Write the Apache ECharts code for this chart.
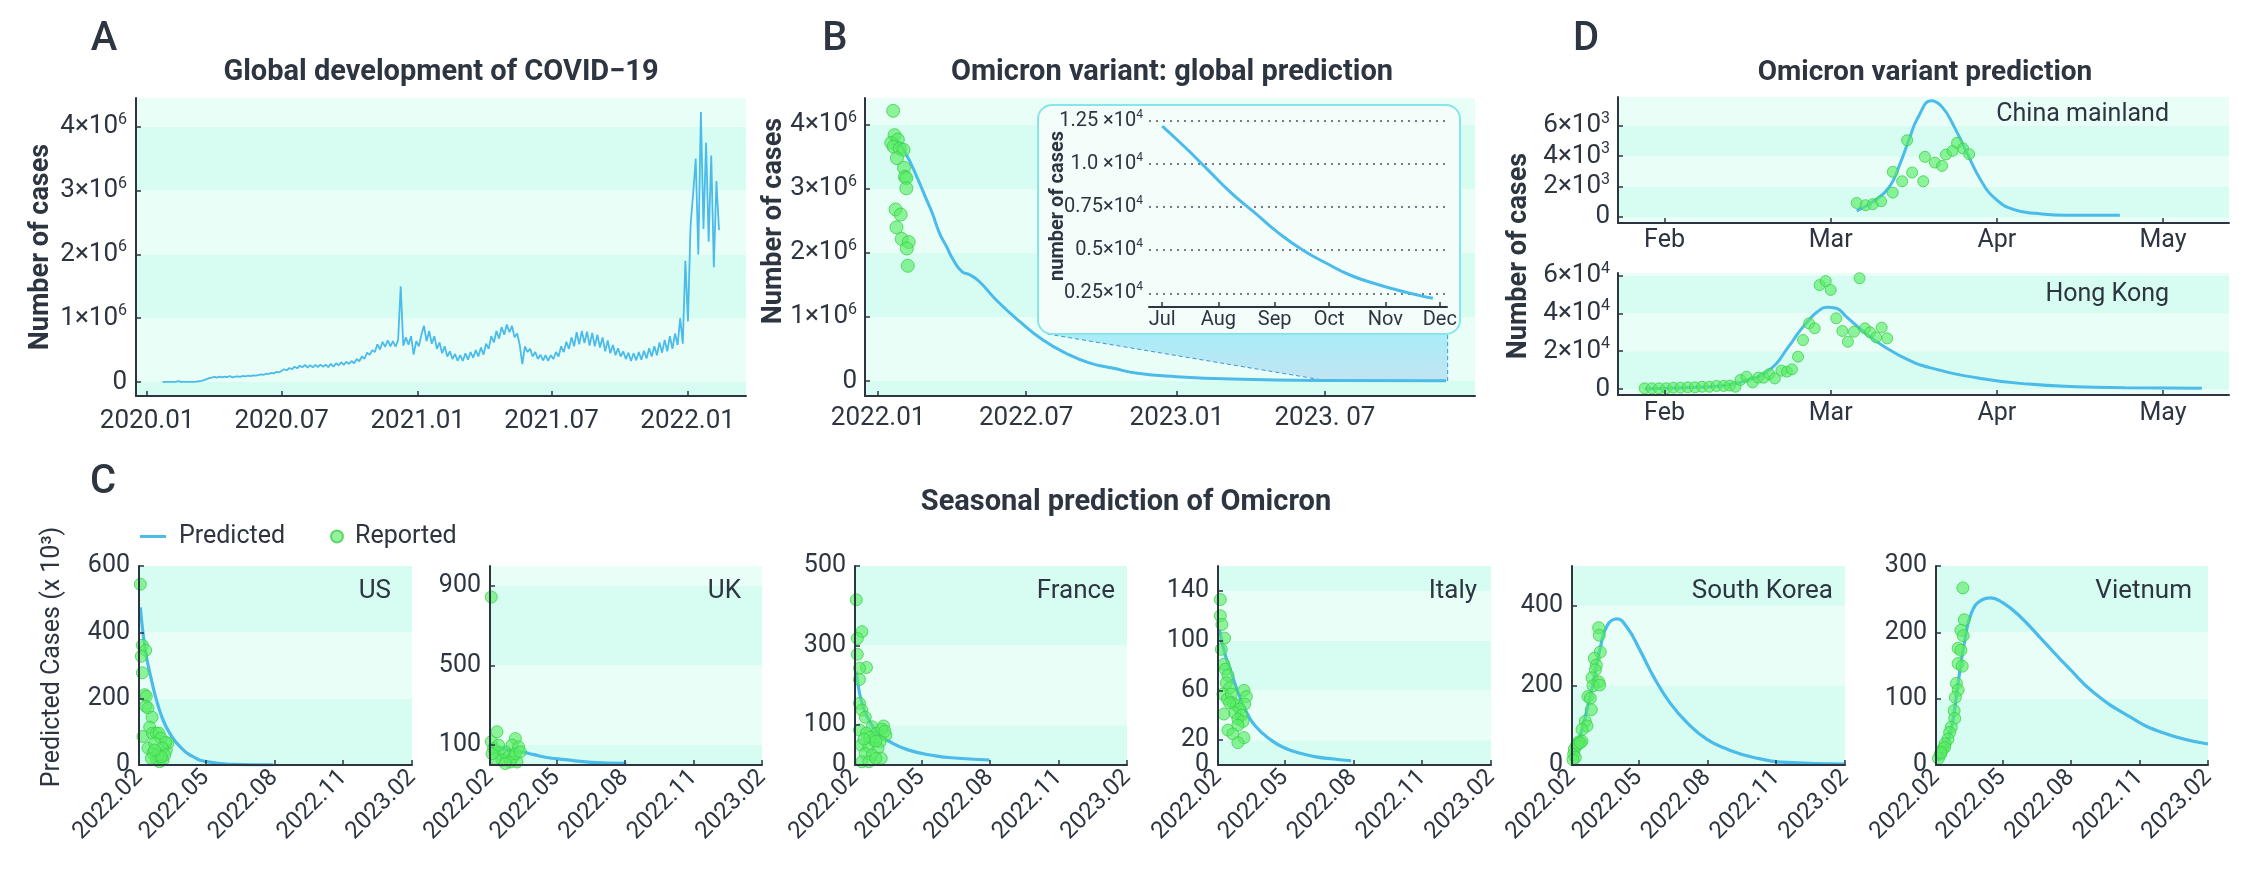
<!DOCTYPE html>
<html>
<head>
<meta charset="utf-8">
<title>COVID-19 / Omicron prediction</title>
<script src="https://cdn.jsdelivr.net/npm/echarts@6.0.0/dist/echarts.min.js"></script>
<style>
html, body { margin: 0; padding: 0; background: #ffffff; }
#chart { width: 2253px; height: 888px; }
</style>
</head>
<body>
<div id="chart"></div>
<script>
const DAY = 86400000;
function utc(y, m, d) { return Date.UTC(y, m - 1, d); }

// ================= DATA =================
// ---- Panel A: global daily cases (thousands), one sample every 3.5 days from 2020-01-22
const aStartDate = utc(2020, 1, 22);
const aStepDays = 3.5;
const aCasesK = [
  0.6, 2, 2.5,
  3, 3.5, 3, 15, 2.5, 2, 1, 1.5, 2,
  3, 5, 12, 17, 30, 45, 60, 70,
  80, 70, 85, 72, 85, 78, 95, 72, 85,
  90, 80, 95, 88, 100, 92, 105, 100, 110,
  120, 112, 130, 125, 145, 135, 160, 150,
  175, 200, 185, 220, 200, 240, 215, 255, 230,
  270, 225, 265, 230, 268, 235, 270, 240, 272,
  232, 285, 240, 295, 260, 310, 270, 318, 282,
  330, 295, 360, 325, 400, 365, 460, 425, 500,
  470, 590, 510, 630, 550, 655, 560, 640,
  555, 660, 1500, 570, 700, 585, 720, 430, 640,
  560, 740, 880, 640, 800, 600, 720, 520, 620,
  450, 560, 400, 480, 360, 440, 330, 420,
  330, 450, 350, 470, 380, 500, 400, 540, 430,
  600, 520, 720, 620, 800, 680, 860, 740,
  900, 780, 880, 700, 760, 580, 280, 560, 470,
  520, 400, 470, 360, 430, 340, 420, 330, 420,
  360, 470, 400, 560, 470, 630, 520, 700, 560,
  780, 590, 800, 610, 790, 570, 770, 560,
  740, 540, 700, 480, 650, 450, 580, 420, 530,
  400, 480, 360, 460, 330, 450, 340, 470, 350,
  490, 370, 530, 400, 560, 420, 620, 460,
  660, 480, 720, 520, 760, 580, 1000, 600, 1900,
  950, 2450, 2950, 3500, 2000, 4230, 2400, 3750, 2200,
  3550, 1800, 3150, 2380
];
const aXTicks = [utc(2020,1,1), utc(2020,7,1), utc(2021,1,1), utc(2021,7,1), utc(2022,1,1)];
const aYTicks = [0, 1e6, 2e6, 3e6, 4e6];

// ---- Panel B: global Omicron prediction (millions), days after 2022-01-01
const bBaseDate = utc(2022, 1, 1);
const bReportedDays = [18.4, 20.1, 16.1, 24.2, 19, 26.5, 31, 23, 31.7, 32.8, 34.5, 34.5, 21.3, 27.6, 22.5, 28.8, 37.4, 35.1, 36.3];
const bReportedM = [4.22, 3.84, 3.72, 3.77, 3.66, 3.63, 3.61, 3.48, 3.33, 3.19, 3.17, 3.01, 2.68, 2.60, 2.40, 2.22, 2.17, 2.07, 1.80];
const bPredDays = [19, 22, 28.8, 34.6, 40, 49, 57.6, 66.3, 75, 83.6, 92, 102.5, 112, 124, 144, 173, 201.5, 230, 259, 288, 317, 364, 432, 545, 694];
const bPredM = [3.79, 3.77, 3.66, 3.53, 3.40, 3.14, 2.88, 2.62, 2.31, 2.10, 1.89, 1.71, 1.66, 1.55, 1.27, 0.93, 0.64, 0.43, 0.28, 0.198, 0.12, 0.068, 0.03, 0.008, 0.003];
const bXTicks = [utc(2022,1,1), utc(2022,7,1), utc(2023,1,1), utc(2023,7,1)];
const bXLabels = ['2022.01', '2022.07', '2023.01', '2023. 07'];
const bYTicks = [0, 1e6, 2e6, 3e6, 4e6];
// magnified tail region (date, cases) in panel B coordinates
const zoomRegion = [[utc(2022,7,27), 734000], [utc(2023,6,30), 12000], [utc(2023,11,28), 0], [utc(2023,11,28), 734000]];

// ---- Panel B inset: tail of the prediction, days after 2023-07-01
const insetBaseDate = utc(2023, 7, 1);
const insetDays = [0, 12.3, 25.3, 38.3, 51.4, 64.4, 77.4, 90.5, 103.5, 116.6, 129.6, 142.6, 149.2];
const insetCases = [12190, 10990, 9640, 8290, 7130, 5970, 5010, 4240, 3560, 3080, 2690, 2350, 2210];
const insetXTicks = [utc(2023,7,1), utc(2023,8,1), utc(2023,9,1), utc(2023,10,1), utc(2023,11,1), utc(2023,12,1)];
const insetXLabels = ['Jul', 'Aug', 'Sep', 'Oct', 'Nov', 'Dec'];
const insetYTicks = [2500, 5000, 7500, 10000, 12500];
const insetYLabels = ['0.25×10', '0.5×10', '0.75×10', '1.0 ×10', '1.25 ×10'];

// ---- Panel D: month axis (30 = Feb, 60 = Mar, 90 = Apr, 120 = May)
const dMonthTicks = [30, 60, 90, 120];
const dMonthLabels = ['Feb', 'Mar', 'Apr', 'May'];
const cnPredX = [64.7, 68.0, 70.6, 72.3, 74.1, 75.8, 78.2, 80.1, 82.3, 84.5, 87.1, 89.7, 93.1, 97.5, 102.7, 112.2];
const cnPredV = [400, 1100, 1980, 3300, 5050, 6590, 7650, 7250, 5930, 4290, 2420, 1210, 480, 220, 110, 110];
const cnRepX = [64.7, 66.3, 67.6, 69.1, 71.2, 71.2, 72.9, 73.8, 74.7, 76.7, 77.0, 78.8, 80.1, 80.8, 82.0, 82.8, 83.9, 85.0];
const cnRepV = [920, 770, 840, 1030, 1600, 2970, 2350, 5050, 2930, 2350, 3960, 3580, 3360, 4110, 4350, 4880, 4510, 4130];
const cnYTicks = [0, 2000, 4000, 6000];
const hkPredX = [26.4, 35.0, 39.4, 42.0, 43.7, 48.9, 52.4, 54.1, 55.8, 57.6, 59.3, 61.0, 62.8, 66.3, 69.7, 74.1, 78.4, 87.1, 95.7, 104.4, 113.1, 127.0];
const hkPredV = [200, 800, 1500, 2500, 3500, 10000, 22400, 29500, 35600, 40900, 43200, 42700, 38300, 29400, 22400, 15300, 10900, 5600, 2600, 1200, 700, 350];
const hkRepX = [26.4, 27.7, 29.0, 30.3, 31.6, 32.9, 34.2, 35.5, 36.8, 38.1, 39.4, 40.7, 41.8, 42.8, 43.7, 44.8, 45.9, 46.9, 47.9, 48.9, 49.9, 51.1, 52.1, 53.0, 54.1, 55.0, 56.1, 57.1, 58.0, 59.1, 60.0, 61.0, 62.1, 63.1, 64.2, 65.2, 66.2, 67.1, 68.2, 69.2, 70.2];
const hkRepV = [350, 350, 350, 350, 700, 700, 900, 900, 1200, 1200, 1600, 1600, 1800, 1200, 4800, 6500, 3500, 6000, 6000, 7900, 5600, 9700, 9200, 10400, 17100, 25900, 34700, 32100, 55000, 57100, 52400, 37400, 30700, 25000, 30300, 58600, 32100, 30000, 27300, 32500, 26800];
const hkYTicks = [0, 20000, 40000, 60000];

// ---- Panel C: seasonal prediction (thousands), days after 2022-02-01
const cBaseDate = utc(2022, 2, 1);
const cXTicks = [utc(2022,2,1), utc(2022,5,1), utc(2022,8,1), utc(2022,11,1), utc(2023,2,1)];
const usPredDays = [1.8, 5.3, 9.8, 16.5, 23.2, 32.1, 41, 54.4, 72.2, 90, 125.7, 179];
const usPredK = [475, 399, 328, 258, 197, 136, 96, 56, 25, 10, 2, 0.3];
const usRepDays = [1.8, 4.5, 8.9, 3.1, 4.5, 7.6, 9.8, 8.9, 12, 17.4, 5.3, 14.3, 17.8, 23.2, 26.7, 29.4, 12, 18.7, 23.2, 27.6, 32.1, 36.5, 38.8, 35.7, 20.9, 31.2, 34.3, 25.4, 16.5, 29.9, 20.9];
const usRepK = [545, 361, 346, 328, 278, 212, 207, 177, 172, 144, 86, 114, 96, 96, 96, 81, 51, 35, 15, 10, 15, 45, 66, 68, 66, 51, 30, 30, 20, 25, 45];
const ukPredDays = [1, 10, 20, 29, 43, 59, 74, 101, 136, 183];
const ukPredK = [105, 92, 81, 74, 66, 52, 39, 27, 13.6, 8.5];
const ukRepDays = [1.7, 9.4, 34, 1.7, 4.8, 29.5, 38.4, 11.5, 20.5, 25, 31.7, 36.2, 16.1, 7.1, 27.2, 20.5, 34, 40.7, 2.7, 11.5];
const ukRepK = [844, 167, 133, 117, 83, 100, 91, 57, 66, 41, 41, 15, 24, 32, 15, 7, 57, 66, 57, 100];
const frPredDays = [2, 3.1, 9.3, 18.5, 30.9, 46.2, 70.9, 107.8, 138.6, 180.5];
const frPredK = [235, 214, 155, 113, 80, 59, 38, 23, 17, 12.6];
const frRepDays = [1.7, 9.3, 3.1, 3.1, 15.4, 6.0, 6.0, 6.0, 9.3, 13.8, 23, 38.3, 6.0, 29, 41.3, 15.4, 24.6, 33.8, 8.1, 18.5, 30.9, 13.7, 23, 35.2, 9.3, 18.5, 27.8, 36, 40, 20, 28, 12];
const frRepK = [415, 335, 318, 278, 245, 243, 215, 155, 138, 120, 96, 98, 88, 80, 75, 80, 63, 59, 50, 46, 42, 29, 25, 17, 8, 8, 17, 90, 85, 70, 60, 65];
const itPredDays = [2, 9, 18, 27, 36, 49, 71, 90, 110, 131, 155, 178];
const itPredK = [109, 90, 74, 58, 45, 32, 20, 13.5, 9.5, 6.5, 4.8, 3.4];
const itRepDays = [3.1, 3.1, 5.2, 8.8, 4.4, 7.9, 9.8, 13.3, 11.1, 15.5, 6.6, 12.4, 17.8, 19.9, 24.5, 15.5, 34.7, 37.9, 35.6, 28.9, 22.2, 31.2, 7.9, 26.6, 33.3, 26.6, 13.3, 19.9, 34.7, 26.6];
const itRepK = [133, 120, 113, 102, 93, 81, 77, 72, 66, 62, 57, 53, 57, 50, 48, 50, 60, 55, 49, 45, 42, 40, 41, 37, 35, 32, 28, 25, 22, 18];
const skPredDays = [2.2, 11, 20, 29, 38, 47, 60, 73.5, 91, 109, 131, 154, 180, 207, 243, 287, 364];
const skPredK = [23, 73, 139, 214, 296, 350, 367, 346, 288, 222, 156, 106, 65, 40, 19, 6.7, 2.5];
const skRepDays = [35.6, 36.5, 37.8, 29.8, 32.5, 31.2, 26.7, 35.6, 28.1, 37, 21.4, 24.5, 25.8, 17.8, 20, 13.4, 13.4, 8.8, 5.7, 3.1, 2.2, 4.4, 1.3, 7.5, 11.1];
const skRepK = [345, 326, 284, 268, 251, 239, 219, 209, 199, 201, 172, 168, 139, 110, 98, 89, 60, 58, 48, 40, 27, 19, 13, 52, 56];
const vnPredDays = [2.3, 11.4, 20.5, 29.7, 38.8, 47.9, 61.6, 73, 89, 111.8, 143.8, 180, 212, 258, 303.5, 365];
const vnPredK = [6.5, 24, 54, 124, 189, 230, 249, 252, 245, 225, 187, 144, 109, 74, 49, 31.6];
const vnRepDays = [36.1, 37.9, 33.4, 36.5, 29.7, 33.4, 29.7, 35.2, 27.4, 29.7, 26, 24.3, 25.1, 20.5, 18.3, 16, 12.3, 9.1, 6, 3.2, 11.4, 6.8];
const vnRepK = [267, 219, 203, 195, 176, 173, 153, 149, 123, 113, 102, 82, 70, 57, 49, 39, 32, 24, 16.5, 10, 26.6, 19];

const cCountries = ['US', 'UK', 'France', 'Italy', 'South Korea', 'Vietnum'];
const cYTicks = [[0,200,400,600], [0,100,500,900], [0,100,300,500], [0,20,60,100,140], [0,200,400], [0,100,200,300]];
const cYMax = [600, 1000, 500, 160, 500, 300];
const cPredDays = [usPredDays, ukPredDays, frPredDays, itPredDays, skPredDays, vnPredDays];
const cPredK = [usPredK, ukPredK, frPredK, itPredK, skPredK, vnPredK];
const cRepDays = [usRepDays, ukRepDays, frRepDays, itRepDays, skRepDays, vnRepDays];
const cRepK = [usRepK, ukRepK, frRepK, itRepK, skRepK, vnRepK];

// ================= STYLE / LAYOUT =================
const INK = '#2d3540';
const FONT = 'Roboto';
const BLUE = '#4bbbe9';
const DARK = '#d7fcf2';
const LIGHT = '#eafef8';
const DOT = { color: 'rgba(88,236,100,0.8)', borderColor: 'rgba(56,206,72,0.95)', borderWidth: 1 };

const cLayout = [
  { left: 139, width: 273, labelX: 391 },
  { left: 490, width: 272, labelX: 741 },
  { left: 855, width: 272, labelX: 1115 },
  { left: 1218, width: 273, labelX: 1477 },
  { left: 1572, width: 273, labelX: 1833 },
  { left: 1936, width: 272, labelX: 2192 }
];

function pad2(n) { return (n < 10 ? '0' : '') + n; }
function ym(v) { const d = new Date(v); return d.getUTCFullYear() + '.' + pad2(d.getUTCMonth() + 1); }
function lookup(ticks, labels) { return v => { const i = ticks.indexOf(v); return i >= 0 ? labels[i] : ''; }; }
function sci(exp) { return v => v === 0 ? '0' : '{m|' + (v / Math.pow(10, exp)) + '×10}{s|' + exp + '}'; }
const sciRich = {
  m: { fontSize: 26, fontFamily: FONT, color: INK, lineHeight: 30 },
  s: { fontSize: 16, fontFamily: FONT, color: INK, lineHeight: 16, verticalAlign: 'top' }
};

function edgesFor(min, max, ticks) { return [min].concat(ticks.filter(t => t > min && t < max)).concat([max]); }
function bands(edges, firstDark) {
  const out = [];
  for (let i = 0; i < edges.length - 1; i++) {
    const dark = (i % 2 === 0) === firstDark;
    out.push([{ yAxis: edges[i], itemStyle: { color: dark ? DARK : LIGHT } }, { yAxis: edges[i + 1] }]);
  }
  return out;
}

function axis(gridIndex, min, max, ticks, formatter, fontSize, margin, opts) {
  opts = opts || {};
  return {
    gridIndex, type: 'value', min, max, z: opts.z || 5,
    axisLine: { show: opts.hideLine ? false : true, onZero: false, lineStyle: { color: INK, width: 2 } },
    axisTick: { show: opts.hideTick ? false : true, inside: true, length: 5, customValues: ticks, lineStyle: { color: INK, width: 1.5 } },
    axisLabel: Object.assign({ show: true, customValues: ticks, formatter, color: INK, fontFamily: FONT, fontSize, margin }, opts.label || {}),
    splitLine: { show: false }, splitArea: { show: false }
  };
}
function bandSeries(i, min, max, ticks, firstDark) {
  return { type: 'line', xAxisIndex: i, yAxisIndex: i, data: [], silent: true, z: 1,
    markArea: { silent: true, z: 1, itemStyle: { opacity: 1 }, data: bands(edgesFor(min, max, ticks), firstDark) } };
}
function curve(i, data, width, name, z) {
  return { type: 'line', name, xAxisIndex: i, yAxisIndex: i, data, symbol: 'none', showSymbol: false,
    smooth: 0.5, lineStyle: { color: BLUE, width }, itemStyle: { color: BLUE }, z: z || 3, silent: true };
}
function dots(i, data, size, name) {
  return { type: 'scatter', name, xAxisIndex: i, yAxisIndex: i, data, symbolSize: size,
    itemStyle: DOT, z: 4, silent: true };
}
function zipDays(base, days, vals, mult) { return days.map((d, k) => [base + d * DAY, vals[k] * mult]); }
function zip(xs, ys) { return xs.map((x, k) => [x, ys[k]]); }

// ================= OPTION =================
const grids = [
  { left: 136, top: 98, width: 610, height: 298 },
  { left: 865, top: 98, width: 610, height: 298 },
  { left: 1149, top: 112, width: 298, height: 195 },
  { left: 1618, top: 97, width: 611, height: 126 },
  { left: 1618, top: 273, width: 611, height: 122 }
].concat(cLayout.map(l => ({ left: l.left, top: 566, width: l.width, height: 199 })))
 .map(g => Object.assign({ containLabel: false, outerBoundsMode: 'none' }, g));

const A = { xmin: utc(2019,12,17), xmax: utc(2022,3,21), ymin: -219000, ymax: 4451000 };
const B = { xmin: utc(2021,12,16), xmax: utc(2023,12,31) + 0.4 * DAY, ymin: -234000, ymax: 4420000 };
const BI = { xmin: utc(2023,6,23) + 0.7 * DAY, xmax: utc(2023,12,5), ymin: 1706, ymax: 13004 };
const D1 = { xmin: 21.6, xmax: 131.9, ymin: -400, ymax: 7900 };
const D2 = { xmin: 21.6, xmax: 131.9, ymin: -3170, ymax: 61370 };
const cXMax = utc(2023, 2, 1);

const xAxes = [
  axis(0, A.xmin, A.xmax, aXTicks, ym, 26, 12),
  axis(1, B.xmin, B.xmax, bXTicks, lookup(bXTicks, bXLabels), 26, 9),
  axis(2, BI.xmin, BI.xmax, insetXTicks, lookup(insetXTicks, insetXLabels), 20, 3, { z: 7 }),
  axis(3, D1.xmin, D1.xmax, dMonthTicks, lookup(dMonthTicks, dMonthLabels), 25, 5),
  axis(4, D2.xmin, D2.xmax, dMonthTicks, lookup(dMonthTicks, dMonthLabels), 25, 6)
].concat(cLayout.map((l, k) => axis(5 + k, cBaseDate, cXMax, cXTicks, ym, 24, 9, { label: { rotate: 45 } })));

const yAxes = [
  axis(0, A.ymin, A.ymax, aYTicks, sci(6), 26, 9, { label: { rich: sciRich } }),
  axis(1, B.ymin, B.ymax, bYTicks, sci(6), 26, 8, { label: { rich: sciRich } }),
  axis(2, BI.ymin, BI.ymax, insetYTicks, v => '{m|' + lookup(insetYTicks, insetYLabels)(v) + '}{s|4}', 20, 6,
    { z: 7, hideLine: true, hideTick: true, label: { rich: {
      m: { fontSize: 20, fontFamily: FONT, color: INK, lineHeight: 24 },
      s: { fontSize: 12, fontFamily: FONT, color: INK, lineHeight: 12, verticalAlign: 'top' } } } }),
  axis(3, D1.ymin, D1.ymax, cnYTicks, sci(3), 26, 8, { label: { rich: sciRich } }),
  axis(4, D2.ymin, D2.ymax, hkYTicks, sci(4), 26, 8, { label: { rich: sciRich } })
].concat(cLayout.map((l, k) => axis(5 + k, 0, cYMax[k], cYTicks[k], v => String(v), 25, 9)));

const zoomFill = new echarts.graphic.LinearGradient(0, 0, 0, 1, [
  { offset: 0, color: '#a8edf8' }, { offset: 1, color: '#c2e4f1' }
]);

const series = [
  // A
  bandSeries(0, A.ymin, A.ymax, aYTicks, true),
  { type: 'line', name: 'Global', xAxisIndex: 0, yAxisIndex: 0, symbol: 'none', showSymbol: false, silent: true, z: 3,
    data: aCasesK.map((v, k) => [aStartDate + k * aStepDays * DAY, v * 1000]),
    lineStyle: { color: BLUE, width: 1.8 }, itemStyle: { color: BLUE } },
  // B
  bandSeries(1, B.ymin, B.ymax, bYTicks, true),
  { type: 'custom', xAxisIndex: 1, yAxisIndex: 1, silent: true, z: 2, data: [[utc(2023,1,1), 0]],
    renderItem: (params, api) => {
      const p = zoomRegion.map(q => api.coord(q));
      return { type: 'group', children: [
        { type: 'polygon', shape: { points: p }, style: { fill: zoomFill } },
        { type: 'line', shape: { x1: p[0][0], y1: p[0][1], x2: p[1][0], y2: p[1][1] }, style: { stroke: '#3c95dc', lineWidth: 1, lineDash: [4, 3] } },
        { type: 'line', shape: { x1: p[2][0], y1: p[2][1], x2: p[3][0], y2: p[3][1] }, style: { stroke: '#3c95dc', lineWidth: 1, lineDash: [4, 3] } }
      ] };
    } },
  curve(1, zipDays(bBaseDate, bPredDays, bPredM, 1e6), 3, 'Global predicted'),
  dots(1, zipDays(bBaseDate, bReportedDays, bReportedM, 1e6), 13, 'Global reported'),
  // B inset
  Object.assign(curve(2, zipDays(insetBaseDate, insetDays, insetCases, 1), 3, 'Inset', 8), {
    markLine: { silent: true, z: 7, symbol: 'none', label: { show: false },
      lineStyle: { type: [2, 5], color: '#4a525c', width: 1.6 }, data: insetYTicks.map(v => ({ yAxis: v })) } }),
  // D
  bandSeries(3, D1.ymin, D1.ymax, cnYTicks, false),
  curve(3, zip(cnPredX, cnPredV), 3, 'China predicted'),
  dots(3, zip(cnRepX, cnRepV), 11, 'China reported'),
  bandSeries(4, D2.ymin, D2.ymax, hkYTicks, false),
  curve(4, zip(hkPredX, hkPredV), 3, 'HK predicted'),
  dots(4, zip(hkRepX, hkRepV), 11, 'HK reported')
];
cLayout.forEach((l, k) => {
  const i = 5 + k;
  series.push(bandSeries(i, 0, cYMax[k], cYTicks[k], true));
  series.push(curve(i, zipDays(cBaseDate, cPredDays[k], cPredK[k], 1), 3.2, 'Predicted'));
  series.push(dots(i, zipDays(cBaseDate, cRepDays[k], cRepK[k], 1), 12, 'Reported'));
});

function txt(text, x, y, font, align, rotation) {
  return { type: 'text', x, y, rotation: rotation || 0, z: 10, silent: true,
    style: { text, fill: INK, font, align: align || 'center', verticalAlign: 'middle',
      textAlign: align || 'center', textVerticalAlign: 'middle' } };
}
const graphics = [
  { type: 'rect', z: 6, silent: true, shape: { x: 1038, y: 105, width: 422, height: 229, r: 14 },
    style: { fill: '#f3fefb', stroke: '#86e6e8', lineWidth: 2 } },
  txt('A', 104, 40, '500 40px Roboto'),
  txt('B', 835, 40, '500 40px Roboto'),
  txt('C', 103, 483, '500 40px Roboto'),
  txt('D', 1586, 40, '500 40px Roboto'),
  txt('Global development of COVID\u221219', 441, 73, 'bold 29px Roboto'),
  txt('Omicron variant: global prediction', 1172, 73, 'bold 29px Roboto'),
  txt('Omicron variant prediction', 1925, 73, 'bold 28px Roboto'),
  txt('Seasonal prediction of Omicron', 1126, 503, 'bold 29px Roboto'),
  txt('Number of cases', 41, 247, 'bold 27px Roboto', 'center', Math.PI / 2),
  txt('Number of cases', 774, 221, 'bold 27px Roboto', 'center', Math.PI / 2),
  txt('Number of cases', 1519, 256, 'bold 27px Roboto', 'center', Math.PI / 2),
  txt('number of cases', 1058, 206, 'bold 20px Roboto', 'center', Math.PI / 2),
  txt('Predicted Cases (x 10\u00b3)', 53, 657, '25px Roboto', 'center', Math.PI / 2),
  txt('China mainland', 2169, 115, '25px Roboto', 'right'),
  txt('Hong Kong', 2169, 295, '25px Roboto', 'right')
].concat(cLayout.map((l, k) => txt(cCountries[k], l.labelX, 591, '26px Roboto', 'right')));

const option = {
  animation: false,
  backgroundColor: '#ffffff',
  textStyle: { fontFamily: FONT, color: INK },
  grid: grids,
  xAxis: xAxes,
  yAxis: yAxes,
  legend: [
    { left: 140, top: 524, padding: 0, itemWidth: 26, itemHeight: 3, icon: 'rect', selectedMode: false,
      textStyle: { fontSize: 25, fontFamily: FONT, color: INK, padding: [0, 0, 0, 8] },
      data: ['Predicted'] },
    { left: 330, top: 524, padding: 0, itemWidth: 12, itemHeight: 12, icon: 'circle', selectedMode: false,
      textStyle: { fontSize: 25, fontFamily: FONT, color: INK, padding: [0, 0, 0, 7] },
      data: ['Reported'] }
  ],
  graphic: graphics,
  series
};

const chart = echarts.init(document.getElementById('chart'), null, { renderer: 'canvas' });
chart.setOption(option);
</script>
</body>
</html>
